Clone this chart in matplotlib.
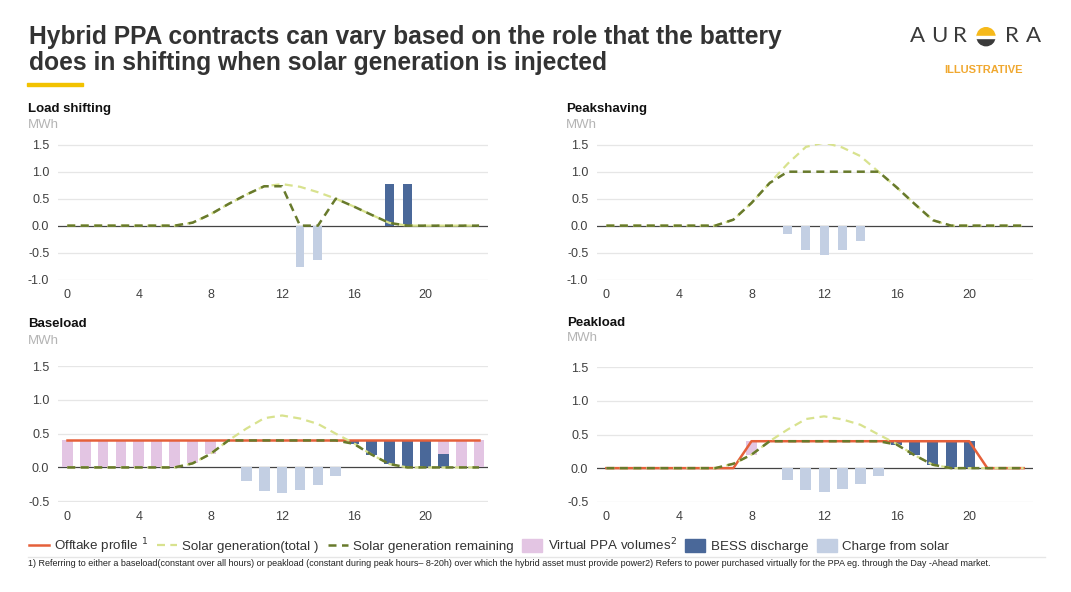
import numpy as np
import matplotlib.pyplot as plt
from matplotlib.lines import Line2D
from matplotlib.patches import Patch, Wedge, Rectangle

plt.rcParams['font.family'] = ['Liberation Sans', 'DejaVu Sans']

W, H = 1071, 592

hours = np.arange(24)
x_ticks = [0, 4, 8, 12, 16, 20]

# Load shifting
ls_total = [0, 0, 0, 0, 0, 0, 0, 0.055, 0.21, 0.4, 0.575, 0.73, 0.77, 0.72, 0.62, 0.5,
            0.355, 0.2, 0.05, 0, 0, 0, 0, 0]
ls_remaining = [0, 0, 0, 0, 0, 0, 0, 0.055, 0.21, 0.4, 0.575, 0.73, 0.73, 0, 0, 0.5,
                0.355, 0.2, 0.05, 0, 0, 0, 0, 0]
ls_bess = [0] * 18 + [0.77, 0.77] + [0] * 4
ls_charge = [0] * 13 + [-0.77, -0.63] + [0] * 9

# Peakshaving
ps_total = [0, 0, 0, 0, 0, 0, 0, 0.11, 0.42, 0.79, 1.15, 1.46, 1.54, 1.45, 1.29, 1.0,
            0.71, 0.4, 0.1, 0, 0, 0, 0, 0]
ps_remaining = [0, 0, 0, 0, 0, 0, 0, 0.11, 0.42, 0.79, 1.0, 1.0, 1.0, 1.0, 1.0, 1.0,
                0.71, 0.4, 0.1, 0, 0, 0, 0, 0]
ps_charge = [0] * 10 + [-0.15, -0.46, -0.54, -0.45, -0.29, -0.01] + [0] * 8

# Baseload
bl_offtake = [0.4] * 24
bl_total = [0, 0, 0, 0, 0, 0, 0, 0.06, 0.2, 0.4, 0.575, 0.73, 0.77, 0.725, 0.645, 0.5,
            0.36, 0.19, 0.05, 0, 0, 0, 0, 0]
bl_remaining = [0, 0, 0, 0, 0, 0, 0, 0.06, 0.2, 0.4, 0.4, 0.4, 0.4, 0.4, 0.4, 0.4,
                0.35, 0.19, 0.05, 0, 0, 0, 0, 0]
bl_virtual = [0.4] * 7 + [0.34, 0.2] + [0] * 12 + [0.2, 0.4, 0.4]
bl_bess = [0] * 16 + [0.05, 0.21, 0.35, 0.4, 0.4, 0.2, 0, 0]
bl_charge = [0] * 10 + [-0.2, -0.35, -0.38, -0.34, -0.26, -0.12] + [0] * 8

# Peakload
pl_offtake = [0] * 8 + [0.4] * 13 + [0] * 3
pl_total = [0, 0, 0, 0, 0, 0, 0, 0.065, 0.2, 0.4, 0.575, 0.73, 0.77, 0.725, 0.645, 0.5,
            0.36, 0.19, 0.05, 0, 0, 0, 0, 0]
pl_remaining = [0, 0, 0, 0, 0, 0, 0, 0.065, 0.2, 0.4, 0.4, 0.4, 0.4, 0.4, 0.4, 0.4,
                0.35, 0.19, 0.05, 0, 0, 0, 0, 0]
pl_virtual = [0] * 8 + [0.2] + [0] * 15
pl_bess = [0] * 16 + [0.05, 0.21, 0.35, 0.4, 0.4, 0, 0, 0]
pl_charge = [0] * 10 + [-0.17, -0.32, -0.36, -0.31, -0.23, -0.11] + [0] * 8

RED = "#e5603a"
LIGHT = "#d8e28e"
DARK = "#687a2c"
PINK = "#e3c5e3"
NAVY = "#4a6899"
LBLUE = "#c3cfe3"
TXT = "#333333"


def px_box(left, top, right, bottom):
    return [left / W, 1 - bottom / H, (right - left) / W, (bottom - top) / H]


def draw_panel(ax, ymin, total, remaining, charge, width, bess=None, bess_bottom=None,
               virtual=None, offtake=None):
    yticks = np.arange(ymin, 1.51, 0.5)
    for v in yticks:
        if abs(v) > 1e-9:
            ax.axhline(v, color="#e6e6e6", lw=0.9, zorder=0)
    ax.axhline(0, color="#444444", lw=0.9, zorder=1)
    ax.bar(hours, charge, width=width, color=LBLUE, zorder=2)
    if bess is not None:
        bot = np.zeros(24) if bess_bottom is None else np.array(bess_bottom)
        ax.bar(hours, bess, width=width, bottom=bot, color=NAVY, zorder=2)
        if virtual is not None:
            ax.bar(hours, virtual, width=width, bottom=bot + np.array(bess),
                   color=PINK, zorder=2)
    if offtake is not None:
        ax.plot(hours, offtake, color=RED, lw=1.8, zorder=3)
    ax.plot(hours, total, color=LIGHT, lw=1.6, dashes=(3.6, 2.4), zorder=4)
    ax.plot(hours, remaining, color=DARK, lw=1.8, dashes=(3.2, 2.2), zorder=5)
    ax.set_xlim(-0.5, 23.5)
    ax.set_ylim(ymin - 0.008, 1.508)
    ax.set_yticks(yticks)
    ax.set_yticklabels([f"{v:.1f}" for v in yticks])
    ax.set_xticks(x_ticks)
    ax.tick_params(length=0, labelsize=9, labelcolor="#404040")
    ax.tick_params(axis="y", pad=6.5)
    ax.tick_params(axis="x", pad=6.5)
    for s in ax.spines.values():
        s.set_visible(False)


fig = plt.figure(figsize=(W / 100, H / 100), dpi=100)

ax1 = fig.add_axes(px_box(58.3, 144.3, 488, 280))
ax2 = fig.add_axes(px_box(597.3, 144.3, 1032.7, 280))
ax3 = fig.add_axes(px_box(58.3, 365.7, 488, 501.7))
ax4 = fig.add_axes(px_box(597.3, 366.7, 1032.7, 502.3))

draw_panel(ax1, -1.0, ls_total, ls_remaining, ls_charge, 0.5, bess=ls_bess)
draw_panel(ax2, -1.0, ps_total, ps_remaining, ps_charge, 0.5)
draw_panel(ax3, -0.5, bl_total, bl_remaining, bl_charge, 0.6, bess=bl_bess,
           bess_bottom=bl_remaining, virtual=bl_virtual, offtake=bl_offtake)
draw_panel(ax4, -0.5, pl_total, pl_remaining, pl_charge, 0.6, bess=pl_bess,
           bess_bottom=pl_remaining, virtual=pl_virtual, offtake=pl_offtake)


def ftext(x, y, s, **kw):
    return fig.text(x / W, 1 - y / H, s, **kw)


# titles
ftext(29, 44.3, "Hybrid PPA contracts can vary based on the role that the battery",
      fontsize=17.7, fontweight="bold", color=TXT, va="baseline")
ftext(29, 70, "does in shifting when solar generation is injected",
      fontsize=17.7, fontweight="bold", color=TXT, va="baseline")
fig.add_artist(Rectangle((27 / W, 1 - 85.8 / H), 56 / W, 3 / H, color="#f2c200",
                         transform=fig.transFigure))

panels = [(28, 112.3, 128.3, "Load shifting"), (565.7, 112.3, 128.3, "Peakshaving"),
          (28, 326.7, 343.5, "Baseload"), (566.7, 325.7, 340.7, "Peakload")]
for x, yb, ym, name in panels:
    ftext(x, yb, name, fontsize=9.5, fontweight="bold", color="#111111", va="baseline")
    ftext(x, ym, "MWh", fontsize=9.5, color="#b4b4b4", va="baseline")

# logo
for x, ch in [(917, "A"), (939, "U"), (960, "R"), (1012, "R"), (1033.5, "A")]:
    ftext(x, 36.5, ch, fontsize=16, color="#3a3a3a", ha="center", va="center",
          family=["Lato", "DejaVu Sans"])
lax = fig.add_axes(px_box(970, 24, 1002, 48))
lax.set_xlim(970, 1002)
lax.set_ylim(H - 48, H - 24)
lax.axis("off")
cx, cy = 986, H - 36.7
lax.add_patch(Wedge((cx, cy), 9, 180, 360, color="#3a3a3a"))
lax.add_patch(Wedge((cx, cy), 9, 0, 180, color="#f6b91a"))
lax.add_patch(Rectangle((cx - 10, cy - 1.2), 20, 1.6, color="white"))
ftext(983.5, 70, "ILLUSTRATIVE", fontsize=8, fontweight="bold", color="#f0a830",
      ha="center", va="center")

# legend
handles = [
    Line2D([], [], color=RED, lw=1.8),
    Line2D([], [], color=LIGHT, lw=1.6, dashes=(3.6, 2.4)),
    Line2D([], [], color=DARK, lw=1.8, dashes=(3.2, 2.2)),
    Patch(color=PINK),
    Patch(color=NAVY),
    Patch(color=LBLUE),
]
labels = ["Offtake profile $^1$", "Solar generation(total )", "Solar generation remaining",
          "Virtual PPA volumes$^2$", "BESS discharge", "Charge from solar"]
fig.legend(handles, labels, loc="center left", bbox_to_anchor=(29 / W, 1 - 546 / H),
           ncol=6, frameon=False, fontsize=9.6, handlelength=1.5, handleheight=1.1,
           handletextpad=0.4, columnspacing=0.65, borderpad=0, borderaxespad=0,
           labelcolor="#333333")

fig.add_artist(Line2D([28 / W, 1045 / W], [1 - 557.3 / H] * 2, color="#e6e6e6", lw=1,
                      transform=fig.transFigure))
ftext(28, 564, "1) Referring to either a baseload(constant over all hours) or peakload "
      "(constant during peak hours\u2013 8-20h) over which the hybrid asset must provide "
      "power2) Refers to power purchased virtually for the PPA eg. through the Day -Ahead "
      "market.", fontsize=6.45, color="#222222", va="center")

fig.savefig("out.png", dpi=100)
